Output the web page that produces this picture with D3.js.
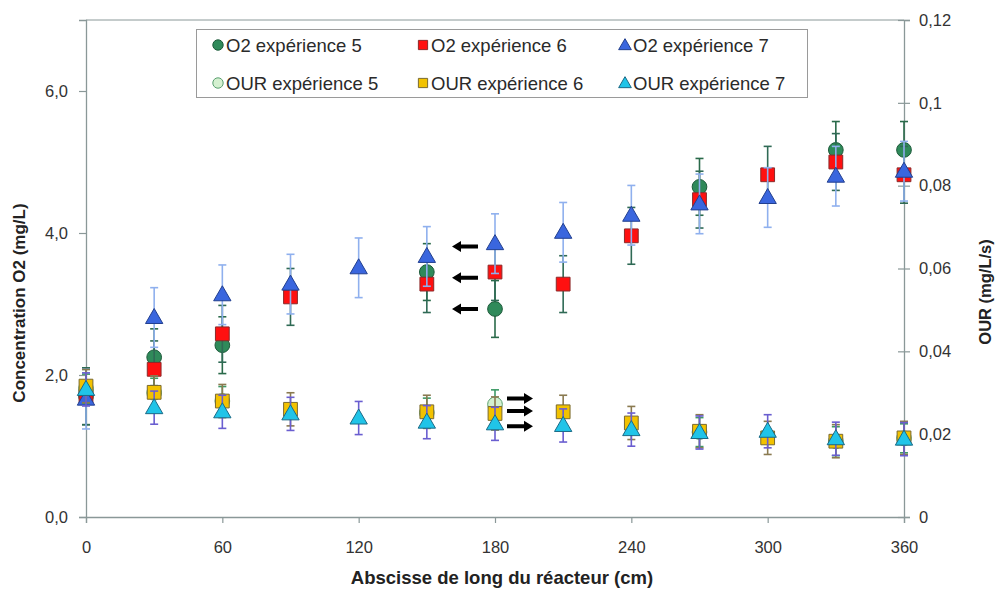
<!DOCTYPE html>
<html><head><meta charset="utf-8">
<script src="https://cdn.jsdelivr.net/npm/d3@7"></script>
<style>body{margin:0;background:#fff}svg{display:block}text{font-family:"Liberation Sans",Arial,sans-serif}</style>
</head><body><svg id="c" width="996" height="591"></svg>
<script>
// ---- data ----
const positions = [0, 30, 60, 90, 120, 150, 180, 210, 240, 270, 300, 330, 360];
const o2Exp5  = [1.70, 2.25, 2.42, null, null, 3.45, 2.93, null, null, 4.65, null, 5.17, 5.17];
const o2Exp6  = [1.70, 2.08, 2.58, 3.10, null, 3.28, 3.45, 3.28, 3.96, 4.47, 4.82, 5.00, 4.82];
const o2Exp7  = [1.66, 2.81, 3.13, 3.28, 3.51, 3.67, 3.85, 4.01, 4.25, 4.41, 4.50, 4.80, 4.87];
const ourExp5 = [0.0310, 0.0300, 0.0280, null, null, 0.0252, 0.0272, null, null, 0.0205, null, 0.0183, 0.0190];
const ourExp6 = [0.0316, 0.0301, 0.0280, 0.0260, null, 0.0254, 0.0250, 0.0254, 0.0227, 0.0207, 0.0191, 0.0183, 0.0191];
const ourExp7 = [0.0308, 0.0264, 0.0254, 0.0249, 0.0239, 0.0229, 0.0225, 0.0221, 0.0211, 0.0204, 0.0207, 0.0189, 0.0188];
const o2Err5 = 0.40, o2Err6 = 0.40, o2Err7 = 0.42;
const ourErr5 = 0.0035, ourErr6 = 0.0040, ourErr7 = 0.0040;
const xTicks = [0, 60, 120, 180, 240, 300, 360];
const o2Ticks = [0, 2, 4, 6];
const ourTicks = [0, 0.02, 0.04, 0.06, 0.08, 0.1, 0.12];
const legendLabels = ["O2 expérience 5", "O2 expérience 6", "O2 expérience 7",
                      "OUR expérience 5", "OUR expérience 6", "OUR expérience 7"];
const arrowPos = 180;
const leftArrowsO2 = [3.81, 3.37, 2.93];
const rightArrowsOUR = [0.0286, 0.0256, 0.0219];
const xTitle = "Abscisse de long du réacteur (cm)";
const yLeftTitle = "Concentration O2 (mg/L)";
const yRightTitle = "OUR (mg/L/s)";

// ---- layout ----
const L = 86, R = 904, T = 20, B = 517;
const svg = d3.select("#c");
const x = d3.scaleLinear().domain([0, 360]).range([L, R]);
const yL = d3.scaleLinear().domain([0, 7]).range([B, T]);
const yR = d3.scaleLinear().domain([0, 0.12]).range([B, T]);
const fmtComma = d => d3.format(".1f")(d).replace(".", ",");
const fmtR = d => (d === 0 ? "0" : String(+d.toFixed(2)).replace(".", ","));

const frameCol = "#8a9898";
svg.append("line").attr("x1", L).attr("x2", R).attr("y1", T).attr("y2", T).attr("stroke", frameCol).attr("stroke-width", 1);

const gx = svg.append("g").attr("transform", `translate(0,${B})`)
  .call(d3.axisBottom(x).tickValues(xTicks).tickSize(6).tickPadding(18).tickFormat(d3.format("d")));
const gl = svg.append("g").attr("transform", `translate(${L},0)`)
  .call(d3.axisLeft(yL).tickValues(o2Ticks).tickSize(7).tickPadding(11).tickFormat(fmtComma));
const gr = svg.append("g").attr("transform", `translate(${R},0)`)
  .call(d3.axisRight(yR).tickValues(ourTicks).tickSize(6).tickPadding(9).tickFormat(fmtR));
gr.selectAll(".tick line").attr("x1", -6);
[gx, gl, gr].forEach(g => {
  g.select(".domain").attr("stroke", frameCol).attr("stroke-width", 1.3);
  g.selectAll(".tick line").attr("stroke", frameCol).attr("stroke-width", 1.2);
  g.selectAll(".tick text").attr("font-size", 16.5).attr("fill", "#333")
   .style("font-family", '"Liberation Sans",Arial,sans-serif');
});

// titles
svg.append("text").attr("x", 502).attr("y", 584).attr("text-anchor", "middle")
  .attr("font-size", 18.5).attr("font-weight", "bold").attr("fill", "#222").text(xTitle);
svg.append("text").attr("transform", "translate(25,303) rotate(-90)").attr("text-anchor", "middle")
  .attr("font-size", 17).attr("font-weight", "bold").attr("fill", "#222").text(yLeftTitle);
svg.append("text").attr("transform", "translate(991,292) rotate(-90)").attr("text-anchor", "middle")
  .attr("font-size", 16.5).attr("font-weight", "bold").attr("fill", "#222").text(yRightTitle);

// series definitions
const series = [
  {vals: o2Exp5, y: yL, err: o2Err5, sym: d3.symbolCircle, size: 170, fill: "#2f8a5a", stroke: "#1d5a3a", errCol: "#2a6a4a"},
  {vals: o2Exp6, y: yL, err: o2Err6, sym: d3.symbolSquare, size: 190, fill: "#ff1010", stroke: "#8a2a2a", errCol: "#2f6a55"},
  {vals: o2Exp7, y: yL, err: o2Err7, sym: d3.symbolTriangle, size: 130, fill: "#3a66de", stroke: "#223f8f", errCol: "#8fb0ee"},
  {vals: ourExp5, y: yR, err: ourErr5, sym: d3.symbolCircle, size: 170, fill: "#d4f0d0", stroke: "#5aa070", errCol: "#3e9a66"},
  {vals: ourExp6, y: yR, err: ourErr6, sym: d3.symbolSquare, size: 190, fill: "#f2c200", stroke: "#7a6a30", errCol: "#8a7a50"},
  {vals: ourExp7, y: yR, err: ourErr7, sym: d3.symbolTriangle, size: 130, fill: "#20c4e8", stroke: "#1a6a86", errCol: "#6a5ed0"}
];

series.forEach(s => {
  const pts = positions.map((p, i) => ({p, v: s.vals[i]})).filter(d => d.v !== null);
  const g = svg.append("g");
  const eb = g.selectAll("g.eb").data(pts).join("g").attr("stroke", s.errCol).attr("stroke-width", 1.6);
  eb.append("line").attr("x1", d => x(d.p)).attr("x2", d => x(d.p))
    .attr("y1", d => s.y(d.v - s.err)).attr("y2", d => s.y(d.v + s.err));
  eb.append("line").attr("x1", d => x(d.p) - 4).attr("x2", d => x(d.p) + 4)
    .attr("y1", d => s.y(d.v + s.err)).attr("y2", d => s.y(d.v + s.err));
  eb.append("line").attr("x1", d => x(d.p) - 4).attr("x2", d => x(d.p) + 4)
    .attr("y1", d => s.y(d.v - s.err)).attr("y2", d => s.y(d.v - s.err));
  g.selectAll("path.m").data(pts).join("path")
    .attr("d", d3.symbol(s.sym, s.size))
    .attr("transform", d => `translate(${x(d.p)},${s.y(d.v) + (s.sym === d3.symbolTriangle ? 1 : 0)})`)
    .attr("fill", s.fill).attr("stroke", s.stroke).attr("stroke-width", 1);
});

// arrows
function arrow(x1, x2, y) {
  const dir = Math.sign(x2 - x1);
  const hx = x2 - dir * 9;
  const p = [[x1, y - 2], [hx, y - 2], [hx, y - 5.5], [x2, y], [hx, y + 5.5], [hx, y + 2], [x1, y + 2]];
  svg.append("path").attr("d", d3.line()(p) + "Z").attr("fill", "#000");
}
leftArrowsO2.forEach(v => arrow(x(arrowPos) - 17, x(arrowPos) - 43, yL(v)));
rightArrowsOUR.forEach(v => arrow(x(arrowPos) + 12, x(arrowPos) + 38, yR(v)));

// legend
const lg = svg.append("g");
lg.append("rect").attr("x", 196.5).attr("y", 29.5).attr("width", 611).attr("height", 68)
  .attr("fill", "#fff").attr("stroke", "#9a9a9a").attr("stroke-width", 1);
const colX = [218, 423, 625], rowY = [45, 83];
legendLabels.forEach((lab, i) => {
  const s = series[i];
  const cx = colX[i % 3], cy = rowY[Math.floor(i / 3)];
  lg.append("path").attr("d", d3.symbol(s.sym, s.sym === d3.symbolTriangle ? 70 : 85))
    .attr("transform", `translate(${cx},${cy + (s.sym === d3.symbolTriangle ? 1 : 0)})`)
    .attr("fill", s.fill).attr("stroke", s.stroke).attr("stroke-width", 1);
  lg.append("text").attr("x", cx + 8).attr("y", cy + 6.5).attr("font-size", 18.5).attr("fill", "#2a2a2a").text(lab);
});
</script></body></html>
